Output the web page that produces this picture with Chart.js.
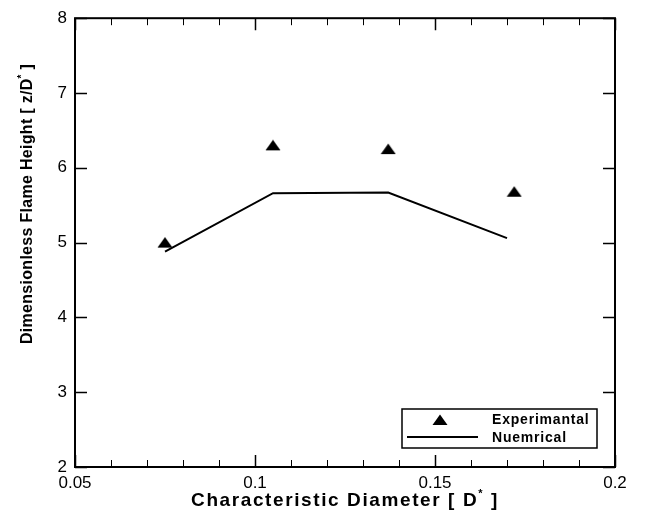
<!DOCTYPE html>
<html>
<head>
<meta charset="utf-8">
<script src="https://cdn.jsdelivr.net/npm/chart.js@4.4.0/dist/chart.umd.min.js"></script>
<style>
  html, body { margin: 0; padding: 0; background: #fff; }
</style>
</head>
<body>
<canvas id="myChart" width="650" height="515"></canvas>
<script>
// data
const expDiameter = [0.075, 0.105, 0.137, 0.172];
const expHeight = [5.0, 6.30, 6.25, 5.68];
const numDiameter = [0.075, 0.105, 0.137, 0.170];
const numHeight = [4.88, 5.66, 5.67, 5.06];
const xLabels = [0.05, 0.1, 0.15, 0.2];
const yLabels = [2, 3, 4, 5, 6, 7, 8];
const seriesNames = ["Experimantal", "Nuemrical"];

// flat black triangle used as point style
const tri = document.createElement("canvas");
tri.width = 16;
tri.height = 12;
const tctx = tri.getContext("2d");
tctx.fillStyle = "#000";
tctx.beginPath();
tctx.moveTo(8, 0.5);
tctx.lineTo(15.5, 11);
tctx.lineTo(0.5, 11);
tctx.closePath();
tctx.fill();

const isMajor = v => xLabels.some(l => Math.abs(l - v) < 1e-6);

// box frame + inward ticks on all four sides
const framePlugin = {
    id: "frame",
    beforeDatasetsDraw(chart) {
        const { ctx, chartArea: a, scales } = chart;
        ctx.save();
        ctx.strokeStyle = "#000";
        scales.x.ticks.forEach(t => {
            const px = Math.round(scales.x.getPixelForValue(t.value)) + 0.5;
            const major = isMajor(t.value);
            const len = major ? 12 : 7;
            ctx.lineWidth = major ? 1.5 : 1;
            ctx.beginPath();
            ctx.moveTo(px, a.bottom);
            ctx.lineTo(px, a.bottom - len);
            ctx.moveTo(px, a.top);
            ctx.lineTo(px, a.top + len);
            ctx.stroke();
        });
        ctx.lineWidth = 1.5;
        scales.y.ticks.forEach(t => {
            const py = Math.round(scales.y.getPixelForValue(t.value)) + 0.5;
            ctx.beginPath();
            ctx.moveTo(a.left, py);
            ctx.lineTo(a.left + 12, py);
            ctx.moveTo(a.right, py);
            ctx.lineTo(a.right - 12, py);
            ctx.stroke();
        });
        ctx.lineWidth = 2;
        ctx.strokeRect(a.left, a.top, a.right - a.left, a.bottom - a.top);
        ctx.restore();
    },
    afterDraw(chart) {
        const { ctx, chartArea: a } = chart;
        ctx.save();
        ctx.fillStyle = "#000";
        ctx.textBaseline = "middle";

        // x title with raised asterisk
        ctx.font = "bold 19px 'Liberation Sans', Arial, sans-serif";
        ctx.letterSpacing = "1.6px";
        const xa = "Characteristic Diameter [ D";
        const xb = " ]";
        ctx.font = "bold 19px 'Liberation Sans', Arial, sans-serif";
        const wa = ctx.measureText(xa).width;
        const wb = ctx.measureText(xb).width;
        ctx.font = "bold 11px 'Liberation Sans', Arial, sans-serif";
        const ws = ctx.measureText("*").width;
        let x0 = (a.left + a.right) / 2 - (wa + ws + wb) / 2;
        ctx.font = "bold 19px 'Liberation Sans', Arial, sans-serif";
        ctx.textAlign = "left";
        ctx.fillText(xa, x0, 501);
        ctx.font = "bold 11px 'Liberation Sans', Arial, sans-serif";
        ctx.fillText("*", x0 + wa, 494);
        ctx.font = "bold 19px 'Liberation Sans', Arial, sans-serif";
        ctx.fillText(xb, x0 + wa + ws, 501);

        // y title, rotated
        ctx.translate(28, 204);
        ctx.rotate(-Math.PI / 2);
        ctx.letterSpacing = "0.3px";
        const ya = "Dimensionless Flame Height [ z/D";
        const yb = " ]";
        ctx.font = "bold 16px 'Liberation Sans', Arial, sans-serif";
        const va = ctx.measureText(ya).width;
        const vb = ctx.measureText(yb).width;
        ctx.font = "bold 10px 'Liberation Sans', Arial, sans-serif";
        const vs = ctx.measureText("*").width;
        const y0 = -(va + vs + vb) / 2;
        ctx.font = "bold 16px 'Liberation Sans', Arial, sans-serif";
        ctx.fillText(ya, y0, 0);
        ctx.font = "bold 10px 'Liberation Sans', Arial, sans-serif";
        ctx.fillText("*", y0 + va, -6);
        ctx.font = "bold 16px 'Liberation Sans', Arial, sans-serif";
        ctx.fillText(yb, y0 + va + vs, 0);
        ctx.restore();

        // legend box
        ctx.save();
        ctx.strokeStyle = "#000";
        ctx.lineWidth = 1.5;
        ctx.fillStyle = "#fff";
        ctx.fillRect(402, 409, 195, 39);
        ctx.strokeRect(402, 409, 195, 39);
        ctx.drawImage(tri, 440 - tri.width / 2, 420 - tri.height / 2);
        ctx.lineWidth = 2;
        ctx.beginPath();
        ctx.moveTo(407, 437);
        ctx.lineTo(478, 437);
        ctx.stroke();
        ctx.fillStyle = "#000";
        ctx.font = "bold 14px 'Liberation Sans', Arial, sans-serif";
        ctx.letterSpacing = "0.8px";
        ctx.textBaseline = "middle";
        ctx.textAlign = "left";
        ctx.fillText(seriesNames[0], 492, 420);
        ctx.fillText(seriesNames[1], 492, 438);
        ctx.restore();
    }
};

const tickFont = { family: "'Liberation Sans', Arial, sans-serif", size: 17 };

let chart = new Chart(document.querySelector("#myChart"), {
    type: "scatter",
    data: {
        datasets: [
            {
                label: seriesNames[0],
                data: expDiameter.map((d, i) => ({ x: d, y: expHeight[i] })),
                pointStyle: tri,
                pointRadius: 8,
                showLine: false
            },
            {
                label: seriesNames[1],
                data: numDiameter.map((d, i) => ({ x: d, y: numHeight[i] })),
                showLine: true,
                borderColor: "#000",
                borderWidth: 2,
                pointRadius: 0,
                tension: 0
            }
        ]
    },
    options: {
        responsive: false,
        animation: false,
        devicePixelRatio: 1,
        layout: { padding: { top: 15, right: 35, left: 0, bottom: 0 } },
        scales: {
            x: {
                type: "linear",
                min: 0.05,
                max: 0.2,
                afterBuildTicks: scale => {
                    const t = [];
                    for (let i = 5; i <= 20; i++) t.push({ value: i / 100 });
                    scale.ticks = t;
                },
                afterFit: scale => { scale.height = 48; },
                grid: { display: false, drawTicks: false },
                border: { display: false },
                ticks: {
                    autoSkip: false,
                    maxRotation: 0,
                    padding: 6,
                    color: "#000",
                    font: tickFont,
                    callback: v => isMajor(v) ? String(+v.toFixed(2)) : ""
                }
            },
            y: {
                type: "linear",
                min: 2,
                max: 8,
                afterBuildTicks: scale => {
                    scale.ticks = yLabels.map(v => ({ value: v }));
                },
                afterFit: scale => { scale.width = 75; },
                grid: { display: false, drawTicks: false },
                border: { display: false },
                ticks: {
                    padding: 8,
                    color: "#000",
                    font: tickFont,
                    callback: v => String(v)
                }
            }
        },
        plugins: {
            legend: { display: false },
            tooltip: { enabled: false }
        }
    },
    plugins: [framePlugin]
});
</script>
</body>
</html>
